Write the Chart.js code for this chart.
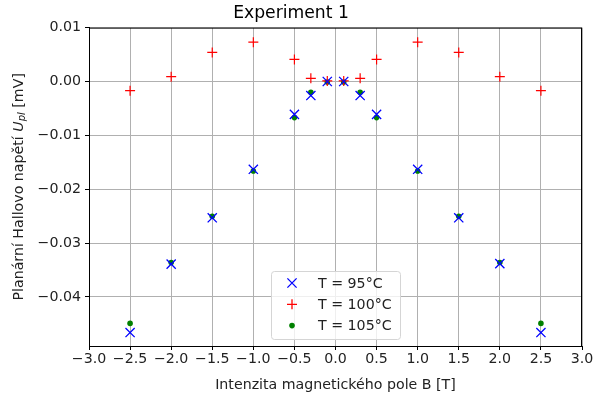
<!DOCTYPE html>
<html>
<head>
<meta charset="utf-8">
<script src="https://cdn.jsdelivr.net/npm/chart.js@4"></script>
<style>
  body { margin: 0; background: #fff; }
  #wrap { width: 595px; height: 398px; }
</style>
</head>
<body>
<div id="wrap"><canvas id="myChart" width="595" height="398"></canvas></div>
<script>
// magnetic field B [T]
const fieldB = [-2.5, -2, -1.5, -1, -0.5, -0.3, -0.1, 0.1, 0.3, 0.5, 1, 1.5, 2, 2.5];
// planar Hall voltage [mV]
const upl95 = [-0.0466, -0.0339, -0.0253, -0.0163, -0.0061, -0.0026, 0.0000, 0.0000, -0.0026, -0.0061, -0.0163, -0.0253, -0.0338, -0.0466];
const upl100 = [-0.0017, 0.0009, 0.0054, 0.0073, 0.0041, 0.0006, 0.0001, 0.0001, 0.0006, 0.0041, 0.0073, 0.0054, 0.0009, -0.0017];
const upl105 = [-0.0449, -0.0336, -0.0250, -0.0166, -0.0067, -0.0020, -0.0001, -0.0001, -0.0020, -0.0067, -0.0166, -0.0250, -0.0336, -0.0449];
const seriesLabels = ['T = 95°C', 'T = 100°C', 'T = 105°C'];
const xTicks = [-3, -2.5, -2, -1.5, -1, -0.5, 0, 0.5, 1, 1.5, 2, 2.5, 3];
const yTicks = [-0.04, -0.03, -0.02, -0.01, 0, 0.01];

const FONT = 'DejaVu Sans';
const FS = 14.2;
const minus = s => s.replace('-', '\u2212');

function pts(ys) {
    return fieldB.map((x, i) => ({ x: x, y: ys[i] }));
}

// frame on all four sides + custom y label + legend box
const extras = {
    id: 'extras',
    afterDraw(chart) {
        const ctx = chart.ctx;
        const a = chart.chartArea;
        ctx.save();
        ctx.strokeStyle = '#000';
        ctx.lineWidth = 1;
        ctx.strokeRect(a.left + 0.5, a.top + 0.5, a.right - a.left - 1, a.bottom - a.top);

        // y axis label with italic U and subscript pl
        ctx.translate(19, (a.top + a.bottom) / 2);
        ctx.rotate(-Math.PI / 2);
        ctx.fillStyle = '#222';
        ctx.textBaseline = 'middle';
        const p1 = 'Planární Hallovo napětí ';
        const p3 = ' [mV]';
        ctx.font = FS + 'px ' + FONT;
        const w1 = ctx.measureText(p1).width;
        const w3 = ctx.measureText(p3).width;
        ctx.font = 'italic ' + FS + 'px ' + FONT;
        const wU = ctx.measureText('U').width;
        ctx.font = 'italic 10px ' + FONT;
        const wS = ctx.measureText('pl').width;
        let x = -(w1 + wU + wS + w3) / 2;
        ctx.textAlign = 'left';
        ctx.font = FS + 'px ' + FONT;
        ctx.fillText(p1, x, 0); x += w1;
        ctx.font = 'italic ' + FS + 'px ' + FONT;
        ctx.fillText('U', x, 0); x += wU;
        ctx.font = 'italic 10px ' + FONT;
        ctx.fillText('pl', x, 3); x += wS;
        ctx.font = FS + 'px ' + FONT;
        ctx.fillText(p3, x, 0);
        ctx.restore();

        // legend
        ctx.save();
        const lx = 271, ly = 271, lw = 129, lh = 68;
        ctx.fillStyle = 'rgba(255,255,255,0.8)';
        ctx.strokeStyle = '#d5d5d5';
        ctx.lineWidth = 1;
        ctx.beginPath();
        ctx.roundRect(lx + 0.5, ly + 0.5, lw, lh, 3);
        ctx.fill();
        ctx.stroke();
        ctx.font = FS + 'px ' + FONT;
        ctx.textBaseline = 'middle';
        chart.data.datasets.forEach((ds, i) => {
            const cy = 283 + i * 21.3;
            const cx = 292;
            ctx.strokeStyle = ds.borderColor;
            ctx.fillStyle = ds.backgroundColor;
            ctx.lineWidth = 1.3;
            ctx.beginPath();
            if (ds.pointStyle === 'crossRot') {
                ctx.moveTo(cx - 4.6, cy - 4.6); ctx.lineTo(cx + 4.6, cy + 4.6);
                ctx.moveTo(cx - 4.6, cy + 4.6); ctx.lineTo(cx + 4.6, cy - 4.6);
                ctx.stroke();
            } else if (ds.pointStyle === 'cross') {
                ctx.moveTo(cx - 5, cy); ctx.lineTo(cx + 5, cy);
                ctx.moveTo(cx, cy - 5); ctx.lineTo(cx, cy + 5);
                ctx.stroke();
            } else {
                ctx.arc(cx, cy, 2.8, 0, Math.PI * 2);
                ctx.fill();
            }
            ctx.fillStyle = '#222';
            ctx.fillText(ds.label, 318, cy + 1);
        });
        ctx.restore();
    }
};

const ctx = document.getElementById('myChart').getContext('2d');
const myChart = new Chart(ctx, {
    type: 'scatter',
    data: {
        datasets: [{
            label: seriesLabels[0],
            data: pts(upl95),
            pointStyle: 'crossRot',
            pointRadius: 6.5,
            borderColor: '#0000ff',
            backgroundColor: '#0000ff',
            pointBorderWidth: 1.3
        }, {
            label: seriesLabels[1],
            data: pts(upl100),
            pointStyle: 'cross',
            pointRadius: 5,
            borderColor: '#ff0000',
            backgroundColor: '#ff0000',
            pointBorderWidth: 1.2
        }, {
            label: seriesLabels[2],
            data: pts(upl105),
            pointStyle: 'circle',
            pointRadius: 2.8,
            borderWidth: 0,
            borderColor: '#008000',
            backgroundColor: '#008000'
        }]
    },
    options: {
        responsive: false,
        animation: false,
        layout: { padding: { left: 0, right: 13, top: 0, bottom: 0 } },
        plugins: {
            legend: { display: false },
            tooltip: { enabled: false },
            title: {
                display: true,
                text: 'Experiment 1',
                color: '#000',
                font: { family: FONT, size: 17.2, weight: 'normal' },
                padding: { top: 3, bottom: 4 }
            }
        },
        scales: {
            x: {
                type: 'linear',
                min: -3,
                max: 3,
                afterBuildTicks: s => { s.ticks = xTicks.map(v => ({ value: v })); },
                afterFit: s => { s.height = 52; },
                ticks: {
                    color: '#222',
                    font: { family: FONT, size: FS },
                    padding: 1,
                    maxRotation: 0,
                    callback: v => minus(Number(v).toFixed(1))
                },
                grid: { color: '#b0b0b0', lineWidth: 1, tickColor: '#000', tickLength: 4 },
                border: { color: '#000' },
                title: {
                    display: true,
                    text: 'Intenzita magnetického pole B [T]',
                    color: '#222',
                    font: { family: FONT, size: FS },
                    padding: { top: 2 }
                }
            },
            y: {
                type: 'linear',
                min: -0.0491,
                max: 0.0100,
                afterBuildTicks: s => { s.ticks = yTicks.map(v => ({ value: v })); },
                afterFit: s => { s.width = 89; },
                ticks: {
                    color: '#222',
                    font: { family: FONT, size: FS },
                    padding: 4,
                    callback: v => minus(Number(v).toFixed(2))
                },
                grid: { color: '#b0b0b0', lineWidth: 1, tickColor: '#000', tickLength: 4 },
                border: { color: '#000' }
            }
        }
    },
    plugins: [extras]
});
</script>
</body>
</html>
